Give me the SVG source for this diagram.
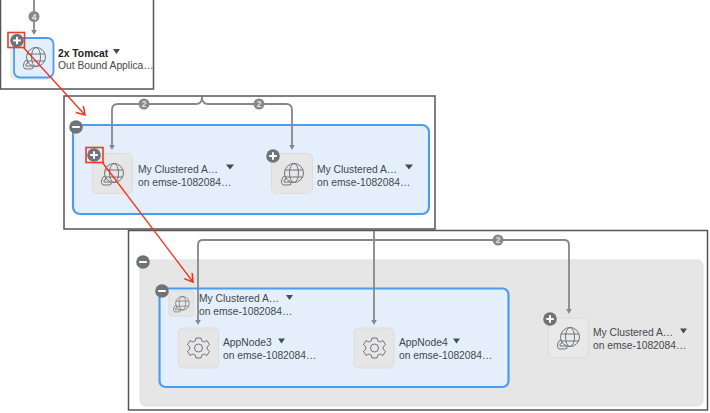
<svg xmlns="http://www.w3.org/2000/svg" width="710" height="413" viewBox="0 0 710 413">
<style>
text{font-family:"Liberation Sans",Arial,sans-serif;font-size:10.3px;fill:#45484c}
.b{font-weight:bold;fill:#222}
.frame{fill:#fff;stroke:#555;stroke-width:1.5}
.grp{fill:#e4effb;stroke:#4a9df0;stroke-width:2.2}
.tile{fill:#e6e6e6;stroke:#dcdcdc;stroke-width:1}
.conn{fill:none;stroke:#85888c;stroke-width:1.8}
.red{fill:none;stroke:#f0331c;stroke-width:1.3}
.redbox{fill:none;stroke:#ee3a26;stroke-width:1.6}
.ic{fill:none;stroke:#66696d;stroke-width:.9}
.cnt{font-size:8.5px;font-weight:bold;fill:#e4e4e4;text-anchor:middle}
.tri{fill:#444b55}
</style>
<defs>
<g id="globe" class="ic"><circle cx="2" cy="-1" r="9.500"/><ellipse cx="2" cy="-1" rx="4.500" ry="9.500"/><path d="M-7-4H11M-7 3H11"/><path d="M-10 5q1-3 3-3l1 3q-3 1-2 3h7q1 3-2 3h-6q-3-2-1-6z" fill="#e6e6e6"/></g>
<g id="gear" class="ic"><circle r="4"/><path d="M-2.500-10h5l.8 3 2.500 1 2.700-1.500 2.500 4.300-2.300 2.100v2.200l2.300 2.100-2.500 4.300-2.700-1.500-2.500 1-.8 3h-5l-.8-3-2.500-1-2.700 1.500-2.500-4.300 2.300-2.100v-2.200l-2.300-2.100 2.500-4.300 2.700 1.500 2.500-1z"/></g>
<g id="plus"><circle r="6.800" fill="#6f7276"/><path d="M-3.800 0H3.800M0-3.800V3.800" stroke="#fff" stroke-width="2"/></g>
<g id="minus"><circle r="6.800" fill="#6f7276"/><path d="M-3.800 0H3.800" stroke="#fff" stroke-width="2"/></g>
<g id="ah"><path d="M-2.800-5H2.800L0 0z" fill="#85888c"/></g>
<g id="badge"><circle r="5.500" fill="#85888c"/></g>
<marker id="redarrow" markerWidth="14" markerHeight="14" refX="9" refY="5" orient="auto" markerUnits="userSpaceOnUse"><path d="M1 0L9 5L1 10" fill="none" stroke="#f0331c" stroke-width="1.500"/></marker>
</defs>
<g id="panel1">
<rect class="frame" x="0.500" y="-2" width="153" height="91"/>
</g>
<g id="panel2">
<rect class="frame" x="64" y="96" width="371" height="133"/>
</g>
<g id="panel3">
<rect class="frame" x="128.500" y="230.500" width="579" height="179.500"/>
<rect x="140" y="260" width="563" height="146" rx="6" fill="#e6e6e7" stroke="#dfdfdf"/>
</g>
<g id="tomcat">
<rect x="10" y="38" width="44" height="42" rx="5" fill="#e0e0e0" opacity=".6"/>
<rect x="14" y="38" width="39.500" height="39.500" rx="6" fill="#e3effc" stroke="#4a9df0" stroke-width="1.800"/>
<use href="#globe" x="34" y="58"/>
<text class="b" x="58" y="57">2x Tomcat</text><path class="tri" d="M113 49h7l-3.500 5z"/>
<text x="58" y="69">Out Bound Applica…</text>
</g>
<g id="group2"><rect class="grp" x="73" y="125" width="356" height="89" rx="7"/></g>
<g id="cluster2a">
<rect class="tile" x="92.500" y="153.500" width="40" height="40" rx="5"/><use href="#globe" x="112" y="174"/>
<text x="138" y="173">My Clustered A…</text><path class="tri" d="M226 164.500h8l-4 5z"/><text x="138" y="186">on emse-1082084…</text>
</g>
<g id="cluster2b">
<rect class="tile" x="271.500" y="153.500" width="41" height="40" rx="5"/><use href="#globe" x="292" y="174"/>
<text x="317" y="173">My Clustered A…</text><path class="tri" d="M405 164.500h8l-4 5z"/><text x="317" y="186">on emse-1082084…</text>
</g>
<g id="group3"><rect class="grp" x="159.500" y="288.500" width="349" height="98.500" rx="6"/></g>
<g id="cluster3a">
<rect class="tile" x="169" y="291" width="25" height="25" rx="3"/><use href="#globe" transform="translate(181 304) scale(.72)"/>
<text x="199" y="302">My Clustered A…</text><path class="tri" d="M286 295h7l-3.500 5z"/><text x="199" y="315">on emse-1082084…</text>
</g>
<g id="appnode3">
<rect class="tile" x="178.500" y="328" width="40" height="40" rx="5"/><use href="#gear" x="198.500" y="348"/>
<text x="223" y="346">AppNode3</text><path class="tri" d="M278 338.500h7l-3.500 5z"/><text x="223" y="359">on emse-1082084…</text>
</g>
<g id="appnode4">
<rect class="tile" x="354" y="328" width="40" height="40" rx="5"/><use href="#gear" x="374.500" y="348"/>
<text x="399" y="346">AppNode4</text><path class="tri" d="M453 338.500h7l-3.500 5z"/><text x="399" y="359">on emse-1082084…</text>
</g>
<g id="cluster3b">
<rect x="548.500" y="318" width="40" height="40" rx="5" fill="#e9e9ea" stroke="#dcdcdc"/><use href="#globe" x="568" y="338"/>
<text x="593" y="336">My Clustered A…</text><path class="tri" d="M680 328.500h7l-3.500 5z"/><text x="593" y="349">on emse-1082084…</text>
</g>
<g id="connectors">
<path class="conn" d="M34 0V31"/>
<path class="conn" d="M112 145V110q0-6 6-6H196q6 0 6-7 0 7 6 7H286q6 0 6 6V145"/>
<path class="conn" d="M198 320V245q0-5 5-5H564q5 0 5 5V310"/>
<path class="conn" d="M374 231V320"/>
<use href="#ah" x="34" y="35"/><use href="#ah" x="112" y="150"/><use href="#ah" x="292" y="150"/><use href="#ah" x="198" y="325"/><use href="#ah" x="374" y="325"/><use href="#ah" x="569" y="314"/>
<use href="#badge" x="34" y="16.500"/><text class="cnt" x="34" y="19.500">4</text>
<use href="#badge" x="144" y="104"/><text class="cnt" x="144" y="107">2</text>
<use href="#badge" x="259" y="104"/><text class="cnt" x="259" y="107">2</text>
<use href="#badge" x="498" y="240"/><text class="cnt" x="498" y="243">2</text>
</g>
<g id="toggles">
<use href="#plus" x="17" y="40.500"/>
<use href="#minus" x="76" y="127"/>
<use href="#plus" x="94" y="155"/>
<use href="#plus" x="273" y="156"/>
<use href="#minus" x="143" y="262"/>
<use href="#minus" x="162" y="291"/>
<use href="#plus" x="550" y="319"/>
</g>
<g id="red-connectors">
<rect class="redbox" x="8" y="32.500" width="16.500" height="15"/>
<rect class="redbox" x="86" y="147.500" width="17" height="15"/>
<path class="red" d="M23 47L85 115" marker-end="url(#redarrow)"/>
<path class="red" d="M102 162L193 282" marker-end="url(#redarrow)"/>
</g>
</svg>
